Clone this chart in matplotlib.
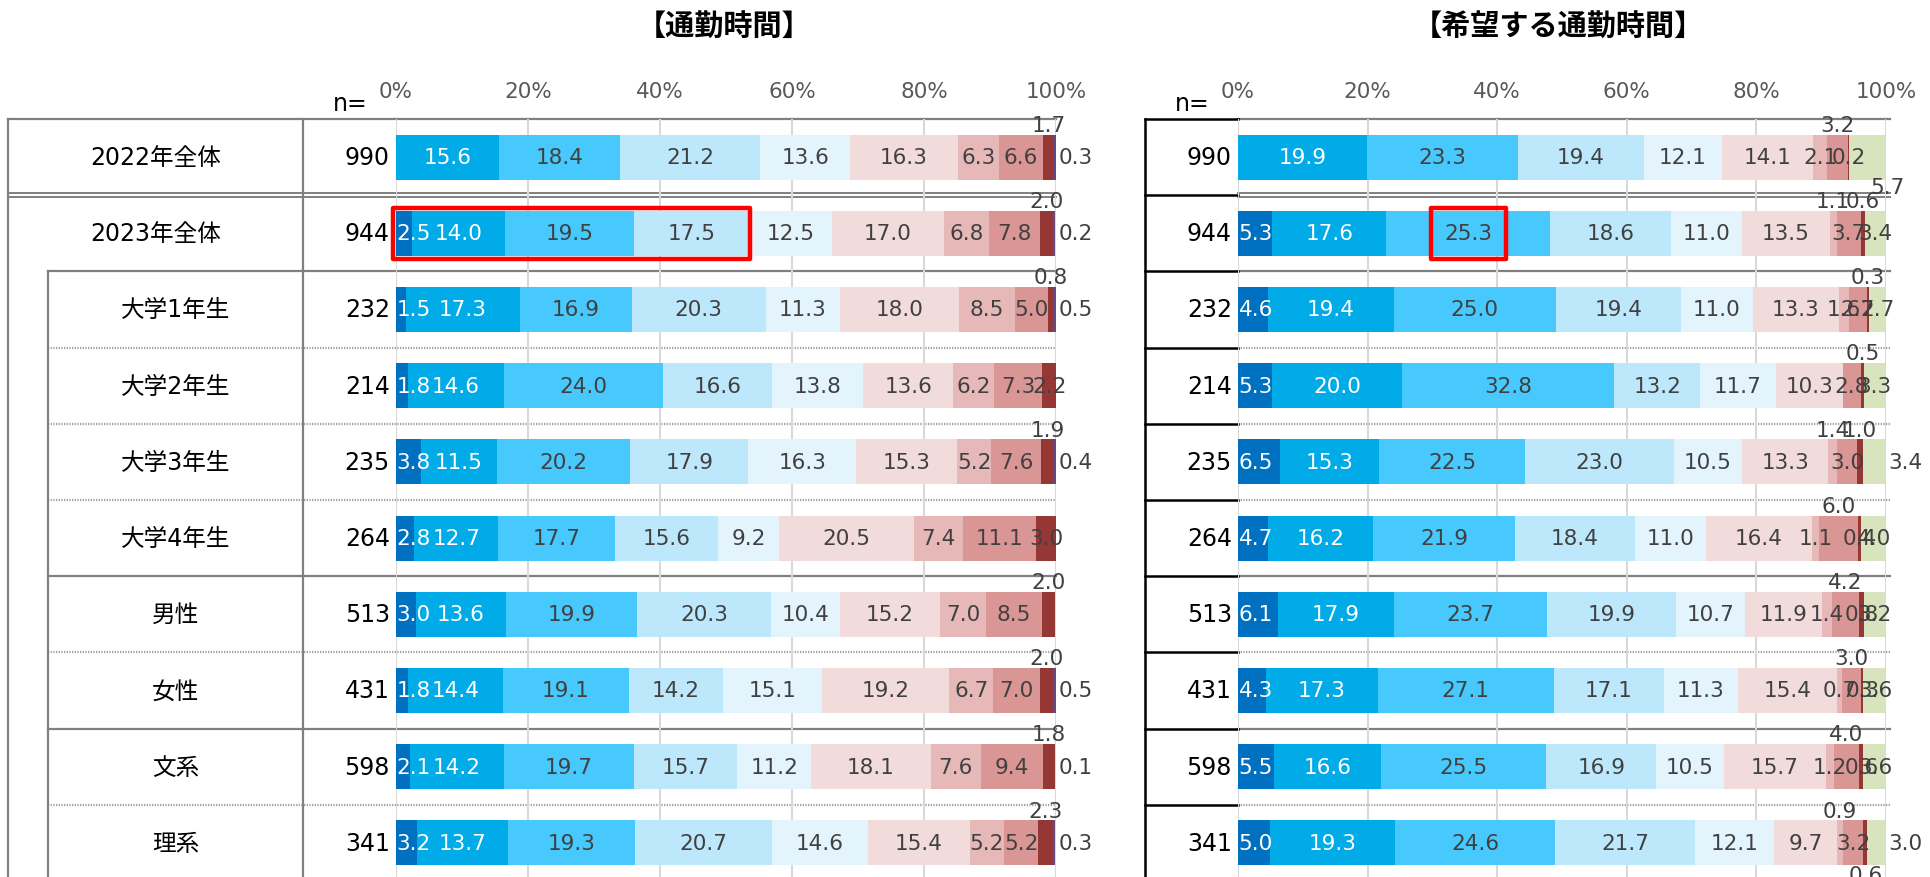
import numpy as np
import matplotlib.pyplot as plt
from matplotlib.patches import Rectangle

# Verdana-like latin glyphs, CJK falls back to Noto
plt.rcParams['font.family'] = ['DejaVu Sans', 'Noto Sans CJK JP']

# row labels and sample sizes
categories = ['2022年全体', '2023年全体', '大学1年生', '大学2年生', '大学3年生',
              '大学4年生', '男性', '女性', '文系', '理系']
n_left = [990, 944, 232, 214, 235, 264, 513, 431, 598, 341]
n_right = [990, 944, 232, 214, 235, 264, 513, 431, 598, 341]

# 通勤時間 (%), 10 answer categories per row
commute = [
    [0.0, 15.6, 18.4, 21.2, 13.6, 16.3, 6.3, 6.6, 1.7, 0.3],
    [2.5, 14.0, 19.5, 17.5, 12.5, 17.0, 6.8, 7.8, 2.0, 0.2],
    [1.5, 17.3, 16.9, 20.3, 11.3, 18.0, 8.5, 5.0, 0.8, 0.5],
    [1.8, 14.6, 24.0, 16.6, 13.8, 13.6, 6.2, 7.3, 2.2, 0.0],
    [3.8, 11.5, 20.2, 17.9, 16.3, 15.3, 5.2, 7.6, 1.9, 0.4],
    [2.8, 12.7, 17.7, 15.6, 9.2, 20.5, 7.4, 11.1, 3.0, 0.0],
    [3.0, 13.6, 19.9, 20.3, 10.4, 15.2, 7.0, 8.5, 2.0, 0.0],
    [1.8, 14.4, 19.1, 14.2, 15.1, 19.2, 6.7, 7.0, 2.0, 0.5],
    [2.1, 14.2, 19.7, 15.7, 11.2, 18.1, 7.6, 9.4, 1.8, 0.1],
    [3.2, 13.7, 19.3, 20.7, 14.6, 15.4, 5.2, 5.2, 2.3, 0.3],
]

# 希望する通勤時間 (%)
wish = [
    [0.0, 19.9, 23.3, 19.4, 12.1, 14.1, 2.1, 3.2, 0.2, 5.7],
    [5.3, 17.6, 25.3, 18.6, 11.0, 13.5, 1.1, 3.7, 0.6, 3.4],
    [4.6, 19.4, 25.0, 19.4, 11.0, 13.3, 1.6, 2.7, 0.3, 2.7],
    [5.3, 20.0, 32.8, 13.2, 11.7, 10.3, 0.0, 2.8, 0.5, 3.3],
    [6.5, 15.3, 22.5, 23.0, 10.5, 13.3, 1.4, 3.0, 1.0, 3.4],
    [4.7, 16.2, 21.9, 18.4, 11.0, 16.4, 1.1, 6.0, 0.4, 4.0],
    [6.1, 17.9, 23.7, 19.9, 10.7, 11.9, 1.4, 4.2, 0.8, 3.2],
    [4.3, 17.3, 27.1, 17.1, 11.3, 15.4, 0.7, 3.0, 0.3, 3.6],
    [5.5, 16.6, 25.5, 16.9, 10.5, 15.7, 1.2, 4.0, 0.6, 3.6],
    [5.0, 19.3, 24.6, 21.7, 12.1, 9.7, 0.9, 3.2, 0.6, 3.0],
]

ticks = [0, 20, 40, 60, 80, 100]
tick_labels = ['0%', '20%', '40%', '60%', '80%', '100%']

base_colors = ['#0070C0', '#00ABE8', '#47C9FE', '#BDE8FC', '#E3F4FD',
               '#F1DBDB', '#E6B9B8', '#DA9694', '#953735']
colors_left = base_colors + ['#5F4B8B']
colors_right = base_colors + ['#D7E4BD']

# label placement (style only)
left_place = {(3, 8): 'in', (5, 8): 'in'}
right_place = {(0, 7): 'above', (0, 9): 'belowright',
               (1, 6): 'above', (1, 8): 'above',
               (2, 8): 'above', (3, 8): 'above',
               (4, 6): 'above', (4, 8): 'above', (4, 9): 'right',
               (5, 7): 'above', (6, 7): 'above', (7, 7): 'above', (8, 7): 'above',
               (9, 6): 'above', (9, 8): 'below', (9, 9): 'right'}

W, H = 1931, 878
TOP = 120
PITCH = 76.2
BAR_H = 0.59
GRID = '#D9D9D9'
LINE = '#808080'
TXT = '#404040'
LBL = 15.5

fig = plt.figure(figsize=(W / 100, H / 100), dpi=100)
bg = fig.add_axes([0, 0, 1, 1])
bg.set_xlim(0, W)
bg.set_ylim(H, 0)
bg.axis('off')

nrows = len(categories)
bounds = [TOP + PITCH * k for k in range(nrows)]
# separator styles between rows
sep_style = ['solid', 'double', 'solid', 'dot', 'dot', 'dot', 'solid', 'dot', 'solid', 'dot']


def hline(x0, x1, y, style, color):
    if style == 'double':
        bg.plot([x0, x1], [y - 1.8, y - 1.8], color=color, lw=1.4)
        bg.plot([x0, x1], [y + 1.8, y + 1.8], color=color, lw=1.4)
    elif style == 'dot':
        bg.plot([x0, x1], [y, y], color='#A6A6A6', lw=1.6, ls=(0, (0.6, 0.6)))
    else:
        bg.plot([x0, x1], [y, y], color=color, lw=1.6)


def draw_panel(x0, x1, data, colors, overrides, default_last, default_red):
    ax = fig.add_axes([x0 / W, 0, (x1 - x0) / W, (H - TOP) / H])
    ax.patch.set_alpha(0)
    rows = np.arange(nrows)
    arr = np.array(data)
    cum = np.zeros(nrows)
    for j in range(arr.shape[1]):
        ax.barh(rows, arr[:, j], left=cum, height=BAR_H, color=colors[j], zorder=3)
        for i in rows:
            v = arr[i, j]
            if v <= 0:
                continue
            c = cum[i] + v / 2
            mode = 'in'
            if j == 0:
                mode = 'left'
            elif j == 8:
                mode = default_red
            elif j == 9:
                mode = default_last
            mode = overrides.get((i, j), mode)
            col = 'white' if j < 2 else TXT
            s = f'{v:.1f}'
            kw = dict(fontsize=LBL, color=col, zorder=5)
            if mode == 'left':
                ax.text(0.1, i, s, ha='left', va='center', **kw)
            elif mode == 'in':
                ax.text(c, i, s, ha='center', va='center', **kw)
            elif mode == 'above':
                ax.text(c, i - BAR_H / 2 - 0.13, s, ha='center', va='center', **kw)
            elif mode == 'below':
                ax.text(c, i + BAR_H / 2 + 0.13, s, ha='center', va='center', **kw)
            elif mode == 'belowright':
                ax.text(100.3, i + BAR_H / 2 + 0.1, s, ha='center', va='center', **kw)
            elif mode == 'right':
                ax.text(100.4, i, s, ha='left', va='center', **kw)
        cum += arr[:, j]
    ax.set_xlim(0, 100)
    ax.set_ylim((H - TOP) / PITCH - 0.5, -0.5)
    ax.set_xticks(ticks)
    ax.set_xticklabels(tick_labels)
    ax.set_yticks([])
    ax.tick_params(axis='x', top=True, labeltop=True, bottom=False, labelbottom=False,
                   length=0, pad=13, labelsize=15.5, labelcolor='#595959')
    for sp in ax.spines.values():
        sp.set_visible(False)
    ax.grid(axis='x', color=GRID, lw=1.5, zorder=0)
    ax.set_axisbelow(True)
    return ax


# ---- left panel ----
LX0, LX1 = 396, 1056
axl = draw_panel(LX0, LX1, commute, colors_left, left_place, 'right', 'above')
for k in range(nrows):
    start = 8 if k < 2 else 48
    hline(start, LX1, bounds[k], sep_style[k], LINE)
bg.plot([8, 8], [TOP, H], color=LINE, lw=1.6)
bg.plot([303, 303], [TOP, H], color=LINE, lw=1.6)
bg.plot([48, 48], [bounds[2], H], color=LINE, lw=1.6)
for i, (cat, n) in enumerate(zip(categories, n_left)):
    yc = TOP + PITCH * (i + 0.5)
    xc = 155.5 if i < 2 else 175.5
    bg.text(xc, yc, cat, ha='center', va='center', fontsize=17, color='black')
    bg.text(390, yc, str(n), ha='right', va='center', fontsize=17, color='black')
bg.text(350, 104, 'n=', ha='center', va='center', fontsize=17)
bg.text(724, 27, '【通勤時間】', ha='center', va='center', fontsize=21, fontweight='bold')

# highlight box on left panel (2023全体, first four categories)
box_right = sum(commute[1][:4])
axl.add_patch(Rectangle((-0.5, 1 - BAR_H / 2 - 0.04), box_right + 0.7, BAR_H + 0.08,
                        fill=False, edgecolor='#FF0000', lw=3.2, zorder=6,
                        clip_on=False, joinstyle='round'))

# ---- right panel ----
RX0, RX1 = 1238, 1886
axr = draw_panel(RX0, RX1, wish, colors_right, right_place, 'in', 'in')
for k in range(nrows):
    hline(RX0, RX1 + 4, bounds[k], sep_style[k], LINE)
    bg.plot([1145, RX0], [bounds[k], bounds[k]], color='black', lw=1.8)
bg.plot([1145, 1145], [TOP, H], color='black', lw=1.8)
for i, n in enumerate(n_right):
    yc = TOP + PITCH * (i + 0.5)
    bg.text(1232, yc, str(n), ha='right', va='center', fontsize=17, color='black')
bg.text(1192, 104, 'n=', ha='center', va='center', fontsize=17)
bg.text(1558, 27, '【希望する通勤時間】', ha='center', va='center', fontsize=21, fontweight='bold')

# highlight box on right panel around the 25.3 label
w = wish[1]
c253 = sum(w[:2]) + w[2] / 2
axr.add_patch(Rectangle((c253 - 5.8, 1 - BAR_H / 2 - 0.04), 11.6, BAR_H + 0.08,
                        fill=False, edgecolor='#FF0000', lw=3.2, zorder=6,
                        clip_on=False, joinstyle='round'))

fig.savefig('out.png', dpi=100)
